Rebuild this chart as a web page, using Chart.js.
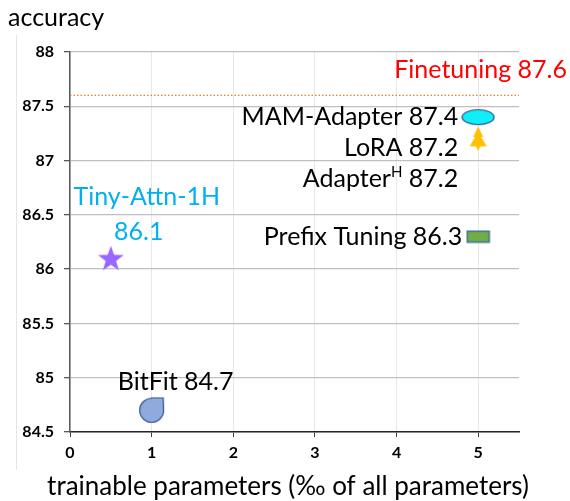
<!DOCTYPE html>
<html>
<head>
<meta charset="utf-8">
<script src="https://cdn.jsdelivr.net/npm/chart.js@4"></script>
<style>
  body { margin: 0; background: #fff; }
  #wrap { width: 570px; height: 501px; }
</style>
</head>
<body>
<div id="wrap"><canvas id="myChart"></canvas></div>
<script>
// Datos
const metodos = ['MAM-Adapter', 'LoRA', 'Adapter', 'Prefix Tuning', 'Tiny-Attn-1H', 'BitFit'];
const parametros = [5, 5, 5, 5, 0.5, 1];          // ‰ de parámetros entrenables
const precisiones = [87.4, 87.2, 87.2, 86.3, 86.1, 84.7];
const finetuningNombre = 'Finetuning';
const finetuningPrecision = 87.6;
const finetuningRango = [0, 5.5];
const ticksX = [0, 1, 2, 3, 4, 5];
const ticksY = [84.5, 85, 85.5, 86, 86.5, 87, 87.5, 88];

const FUENTE = 'Lato, "Open Sans", sans-serif';

// Marcadores dibujados a mano (como las formas de Excel)
function marcador(w, h, dibujar) {
    const c = document.createElement('canvas');
    c.width = w; c.height = h;
    dibujar(c.getContext('2d'));
    return c;
}

const elipse = marcador(34, 18, g => {
    g.beginPath();
    g.ellipse(17, 9, 16, 7.5, 0, 0, Math.PI * 2);
    g.fillStyle = '#10EEF8';
    g.fill();
    g.lineWidth = 1.2;
    g.strokeStyle = '#2F528F';
    g.stroke();
});

const arbol = marcador(20, 26, g => {
    const p = [[10, 0.5], [5, 11], [7, 11], [1.5, 20.5], [8, 20.5], [10, 25.5], [12, 20.5], [18.5, 20.5], [13, 11], [15, 11]];
    g.beginPath();
    p.forEach((q, i) => i ? g.lineTo(q[0], q[1]) : g.moveTo(q[0], q[1]));
    g.closePath();
    g.fillStyle = '#FFC000';
    g.fill();
});

const estrella = marcador(28, 28, g => {
    g.beginPath();
    for (let i = 0; i < 10; i++) {
        const r = i % 2 ? 5.5 : 13.5;
        const a = -Math.PI / 2 + i * Math.PI / 5;
        g.lineTo(14 + r * Math.cos(a), 15 + r * Math.sin(a));
    }
    g.closePath();
    g.fillStyle = '#9966FF';
    g.fill();
});

const gota = marcador(27, 27, g => {
    g.beginPath();
    g.moveTo(13.5, 1);
    g.lineTo(25, 1);
    g.lineTo(25.5, 13.5);
    g.arc(13.5, 13.5, 12, 0, Math.PI * 1.5, false);
    g.closePath();
    g.fillStyle = '#8FAADC';
    g.fill();
    g.lineWidth = 1.2;
    g.strokeStyle = '#2F528F';
    g.stroke();
});

const rectangulo = marcador(25, 14, g => {
    g.fillStyle = '#70AD47';
    g.fillRect(1.5, 1.5, 22, 11);
    g.lineWidth = 1.5;
    g.strokeStyle = '#41719C';
    g.strokeRect(1.5, 1.5, 22, 11);
});

const formas = [elipse, arbol, false, rectangulo, estrella, gota];

// Estilo de las etiquetas (desplazamientos en píxeles respecto al punto)
const etiquetas = [
    { i: 0, dx: -20, dy: 0, align: 'right', color: '#000' },
    { i: 1, dx: -20, dy: 9, align: 'right', color: '#000' },
    { i: 2, dx: -20, dy: 40, align: 'right', color: '#000', sup: 'H' },
    { i: 3, dx: -16, dy: 0, align: 'right', color: '#000' },
    { i: 4, dx: 36, dy: -61, dy2: -26, dx2: 28, align: 'center', color: '#00B0F0', dosLineas: true },
    { i: 5, dx: 24, dy: -28, align: 'center', color: '#000' }
];

const datasets = metodos.map((m, i) => ({
    label: m,
    data: [{ x: parametros[i], y: precisiones[i] }],
    pointStyle: formas[i],
    pointRadius: formas[i] ? 10 : 0,
    order: i === 1 ? 0 : 1
}));

datasets.push({
    label: finetuningNombre,
    type: 'line',
    data: finetuningRango.map(x => ({ x: x, y: finetuningPrecision })),
    borderColor: '#ED7D31',
    borderWidth: 1.2,
    borderDash: [1.5, 2],
    pointRadius: 0,
    order: 2
});

const T = 25;   // tamaño del texto de las etiquetas

const pluginTextos = {
    id: 'textos',
    afterDatasetsDraw(chart) {
        const ctx = chart.ctx;
        const sx = chart.scales.x, sy = chart.scales.y;
        ctx.save();
        ctx.textBaseline = 'middle';
        ctx.font = T + 'px ' + FUENTE;

        etiquetas.forEach(e => {
            const px = sx.getPixelForValue(parametros[e.i]);
            const py = sy.getPixelForValue(precisiones[e.i]);
            const valor = String(precisiones[e.i]);
            ctx.fillStyle = e.color;
            ctx.textAlign = e.align;
            if (e.dosLineas) {
                ctx.fillText(metodos[e.i], px + e.dx, py + e.dy);
                ctx.fillText(valor, px + e.dx2, py + e.dy2);
            } else if (e.sup) {
                // Adapter^H 87.2 alineado a la derecha
                const resto = ' ' + valor;
                ctx.font = T + 'px ' + FUENTE;
                const w1 = ctx.measureText(metodos[e.i]).width;
                const w3 = ctx.measureText(resto).width;
                ctx.font = '15px ' + FUENTE;
                const w2 = ctx.measureText(e.sup).width;
                let x = px + e.dx - (w1 + w2 + w3);
                ctx.textAlign = 'left';
                ctx.font = T + 'px ' + FUENTE;
                ctx.fillText(metodos[e.i], x, py + e.dy);
                x += w1;
                ctx.font = '15px ' + FUENTE;
                ctx.fillText(e.sup, x, py + e.dy - 7);
                x += w2;
                ctx.font = T + 'px ' + FUENTE;
                ctx.fillText(resto, x, py + e.dy);
            } else {
                ctx.fillText(metodos[e.i] + ' ' + valor, px + e.dx, py + e.dy);
            }
        });

        // Finetuning
        ctx.fillStyle = '#FF0000';
        ctx.textAlign = 'right';
        ctx.fillText(finetuningNombre + ' ' + finetuningPrecision,
            sx.getPixelForValue(finetuningRango[1]) + 48,
            sy.getPixelForValue(finetuningPrecision) - 25);

        // Títulos de los ejes
        ctx.fillStyle = '#000';
        ctx.textAlign = 'left';
        ctx.fillText('accuracy', 8, 18);
        ctx.textAlign = 'center';
        ctx.font = '26px ' + FUENTE;
        ctx.fillText('trainable parameters (‰ of all parameters)', 288, 487);

        // borde tenue del área del gráfico original
        ctx.strokeStyle = '#e6e6e6';
        ctx.lineWidth = 1;
        ctx.beginPath();
        ctx.moveTo(16.5, 35);
        ctx.lineTo(16.5, 470);
        ctx.stroke();
        ctx.restore();
    }
};

new Chart(document.getElementById('myChart'), {
    type: 'scatter',
    data: { datasets: datasets },
    plugins: [pluginTextos],
    options: {
        responsive: true,
        maintainAspectRatio: false,
        animation: false,
        events: [],
        layout: { padding: { top: 52, right: 51, left: 0, bottom: 0 } },
        plugins: {
            legend: { display: false },
            tooltip: { enabled: false }
        },
        scales: {
            x: {
                type: 'linear',
                min: 0,
                max: 5.5,
                afterBuildTicks: s => { s.ticks = ticksX.map(v => ({ value: v })); },
                afterFit: s => { s.height = 69; },
                grid: { color: '#e8e8e8', tickColor: '#404040', tickLength: 5 },
                border: { color: '#262626', width: 1.5 },
                ticks: {
                    color: '#000',
                    padding: 6,
                    callback: v => String(v),
                    font: { family: FUENTE, size: 16, weight: 'bold' }
                }
            },
            y: {
                min: 84.5,
                max: 88,
                afterBuildTicks: s => { s.ticks = ticksY.map(v => ({ value: v })); },
                afterFit: s => { s.width = 70; },
                grid: { color: '#c0c0c0', lineWidth: 1.3, tickColor: '#595959', tickLength: 6 },
                border: { color: '#595959', width: 1.5 },
                ticks: {
                    color: '#000',
                    padding: 10,
                    callback: v => String(v),
                    font: { family: FUENTE, size: 16, weight: 'bold' }
                }
            }
        }
    }
});
</script>
</body>
</html>
